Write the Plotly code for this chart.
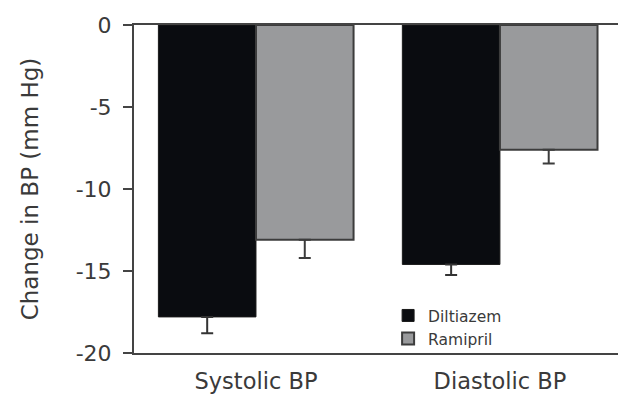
import plotly.graph_objects as go

categories = ["Systolic BP", "Diastolic BP"]
diltiazem = [-17.8, -14.6]
diltiazem_err = [1.0, 0.65]
ramipril = [-13.1, -7.6]
ramipril_err = [1.1, 0.85]
y_ticks = [0, -5, -10, -15, -20]

FONT = "DejaVu Sans"
TXT = "#3a3a3a"

fig = go.Figure()
fig.add_trace(go.Bar(
    name="Diltiazem", x=categories, y=diltiazem,
    marker=dict(color="#0a0c10", line=dict(color="#1a1a1a", width=1)),
    error_y=dict(type="data", symmetric=False, array=[0, 0], arrayminus=diltiazem_err,
                 color="#333333", thickness=2, width=6),
))
fig.add_trace(go.Bar(
    name="Ramipril", x=categories, y=ramipril,
    marker=dict(color="#999a9c", line=dict(color="#3c3c3c", width=2)),
    error_y=dict(type="data", symmetric=False, array=[0, 0], arrayminus=ramipril_err,
                 color="#3c3c3c", thickness=2, width=6),
))

fig.update_layout(
    width=618, height=400,
    margin=dict(l=134, r=0, t=25, b=47),
    paper_bgcolor="white", plot_bgcolor="white",
    barmode="group", bargap=0.2, bargroupgap=0,
    font=dict(family=FONT, color=TXT, size=22),
    showlegend=True,
    legend=dict(x=0.525, y=0.165, xanchor="left", yanchor="top",
                font=dict(size=15.5, color=TXT), bgcolor="rgba(0,0,0,0)",
                tracegroupgap=0, itemwidth=30),
    xaxis=dict(range=[-0.5, 1.484], showline=True, linecolor="#444444", linewidth=2,
               mirror=True, ticks="", showgrid=False, zeroline=False,
               tickfont=dict(size=22.5, color=TXT), ticklabelstandoff=7),
    yaxis=dict(range=[-20, 0], tickvals=y_ticks, ticktext=[str(v) for v in y_ticks],
               showline=True, linecolor="#444444", linewidth=2, ticks="outside",
               ticklen=9, tickwidth=2, tickcolor="#444444", showgrid=False, zeroline=False,
               tickfont=dict(size=22, color=TXT), ticklabelstandoff=7,
               title=dict(text="Change in BP (mm Hg)", font=dict(size=23, color=TXT),
                          standoff=31)),
)

fig.write_html("out.html")
